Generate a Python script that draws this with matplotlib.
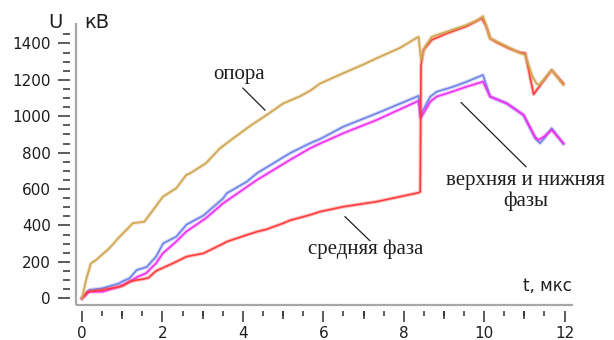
import matplotlib
matplotlib.use("Agg")
import matplotlib.pyplot as plt
from matplotlib.ticker import MultipleLocator

# Опора
t_opora = [0, 0.1, 0.22, 0.35, 0.5, 0.68, 0.9, 1.1, 1.26, 1.55, 1.75, 2.01, 2.34,
           2.59, 2.69, 3.08, 3.43, 3.76, 4.2, 4.59, 5.0, 5.42, 5.67, 5.92, 6.49,
           7.0, 7.33, 7.9, 8.37, 8.43, 8.53, 8.7, 9.07, 9.57, 9.85, 9.97, 10.05,
           10.15, 10.32, 10.65, 10.9, 11.02, 11.2, 11.3, 11.37, 11.68, 11.97]
u_opora = [0, 100, 192, 210, 240, 275, 330, 375, 412, 421, 480, 558, 604,
           677, 687, 742, 824, 879, 950, 1007, 1070, 1110, 1140, 1180, 1236,
           1285, 1319, 1375, 1437, 1309, 1382, 1437, 1465, 1502, 1530, 1550, 1500,
           1428, 1410, 1374, 1346, 1337, 1220, 1180, 1172, 1254, 1172]

# Средняя фаза
t_mid = [0, 0.14, 0.51, 0.93, 1.03, 1.18, 1.36, 1.51, 1.65, 1.84, 2.02, 2.26,
         2.6, 3.02, 3.51, 3.6, 4.1, 4.35, 4.59, 5.0, 5.17, 5.67, 5.92, 6.5,
         7.33, 8.37, 8.41, 8.43, 8.49, 8.7, 9.07, 9.57, 9.94, 10.05, 10.15,
         10.32, 10.65, 10.9, 11.02, 11.23, 11.68, 11.97]
u_mid = [0, 36, 46, 64, 70, 91, 100, 105, 112, 150, 168, 192,
         229, 247, 300, 311, 348, 366, 379, 412, 428, 458, 476, 503,
         531, 580, 585, 1280, 1364, 1420, 1455, 1495, 1538, 1495,
         1428, 1405, 1370, 1350, 1347, 1121, 1254, 1180]

# Верхняя фаза
t_top = [0, 0.18, 0.51, 0.93, 0.99, 1.18, 1.36, 1.61, 1.84, 2.02, 2.34, 2.6,
         3.02, 3.51, 3.6, 4.1, 4.35, 5.17, 5.67, 5.92, 6.5, 7.33, 8.37, 8.42,
         8.66, 8.82, 9.2, 9.57, 9.97, 10.15, 10.56, 10.98, 11.27, 11.39, 11.5,
         11.68, 11.97]
u_top = [0, 46, 55, 82, 91, 110, 155, 172, 229, 302, 338, 405,
         455, 549, 577, 641, 687, 797, 852, 875, 943, 1016, 1112, 1007,
         1108, 1135, 1160, 1190, 1227, 1108, 1071, 1007, 879, 852, 880,
         934, 848]

# Нижняя фаза
t_low = [0, 0.18, 0.51, 0.93, 1.18, 1.39, 1.59, 1.84, 2.01, 2.34, 2.59, 3.08,
         3.51, 4.35, 5.17, 5.67, 5.92, 6.5, 7.33, 8.37, 8.42, 8.66, 8.82, 9.2,
         9.57, 9.97, 10.15, 10.56, 10.98, 11.27, 11.35, 11.5, 11.68, 11.97]
u_low = [0, 36, 36, 64, 91, 119, 137, 192, 247, 311, 366, 440,
         522, 650, 760, 824, 850, 907, 980, 1085, 989, 1080, 1108, 1135,
         1163, 1190, 1108, 1071, 1007, 885, 870, 890, 925, 852]

series = [
    (t_top, u_top, "#6f86e8"),
    (t_low, u_low, "#f032f0"),
    (t_mid, u_mid, "#ff3c3c"),
    (t_opora, u_opora, "#d0a650"),
]

x_major = [0, 2, 4, 6, 8, 10, 12]
x_mid = [1, 3, 5, 7, 9, 11]
y_major = [0, 200, 400, 600, 800, 1000, 1200, 1400]
y_minor = [v for v in range(0, 1451, 50) if v % 200]

fig = plt.figure(figsize=(6.14, 3.40), dpi=100)
ax = fig.add_axes([76 / 614, 35 / 340, 497 / 614, 295 / 340])
ax.set_xlim(-0.15, 12.21)
ax.set_ylim(-37, 1584)

for t, u, c in series:
    ax.plot(t, u, color=c, lw=2.8, alpha=0.3, solid_joinstyle="round")
    ax.plot(t, u, color=c, lw=1.2, solid_joinstyle="round")

# axes: ticks sit a few pixels away from the grey axis lines
for side in ("top", "right"):
    ax.spines[side].set_visible(False)
for side in ("left", "bottom"):
    ax.spines[side].set_position(("outward", 4))
    ax.spines[side].set_visible(False)
axis_kw = dict(color="#a8a8a8", lw=1.6, clip_on=False, solid_capstyle="butt")
ax.plot([0, 0], [-37, 1514], transform=ax.get_yaxis_transform(), **axis_kw)
ax.plot([0, 1], [0, 0], transform=ax.transAxes, **axis_kw)

ax.set_xticks(x_major)
ax.set_yticks(y_major)
ax.xaxis.set_minor_locator(MultipleLocator(0.5))
ax.set_yticks(y_minor, minor=True)
ax.tick_params(axis="both", which="both", color="#303030", width=1.1,
               labelsize=11, labelcolor="#1e1e1e")
ax.tick_params(axis="y", which="major", length=8.6, pad=5.5)
ax.tick_params(axis="y", which="minor", length=5)
ax.tick_params(axis="x", which="major", length=7.9, pad=3)
ax.tick_params(axis="x", which="minor", length=3.4)

# medium ticks at odd microseconds
sec = ax.secondary_xaxis("bottom")
sec.spines["bottom"].set_position(("outward", 4))
sec.spines["bottom"].set_visible(False)
sec.set_xticks(x_mid)
sec.set_xticklabels([])
sec.tick_params(axis="x", length=5.6, width=1.1, color="#303030")

fig.text(55 / 614, 1 - 22 / 340, "U", fontsize=14, ha="center", va="center",
         color="#1e1e1e")
fig.text(97 / 614, 1 - 22 / 340, "кВ", fontsize=14, ha="center", va="center",
         color="#1e1e1e")
ax.text(12.19, 65, "t, мкс", fontsize=12, ha="right", va="center",
        color="#1e1e1e")

serif = dict(family="Liberation Serif", fontsize=15, color="#1e1e1e",
             ha="center", va="center")
ax.text(3.91, 1227, "опора", **serif)
ax.plot([4.0, 4.55], [1155, 1034], color="#202020", lw=0.9)
ax.text(7.06, 271, "средняя фаза", **serif)
ax.plot([6.54, 7.16], [448, 316], color="#202020", lw=0.9)
ax.text(11.04, 589, "верхняя и нижняя\nфазы", linespacing=1.05, **serif)
ax.plot([9.43, 11.04], [1075, 723], color="#202020", lw=0.9)

fig.savefig("out.png", dpi=100)
